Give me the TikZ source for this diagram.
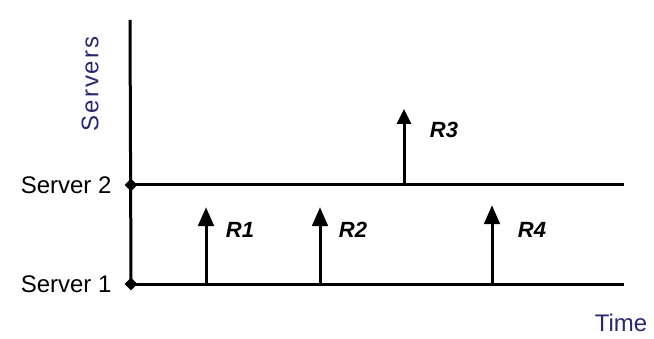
\documentclass[tikz,border=0pt]{standalone}
\usepackage{fontspec}
\setmainfont{Liberation Sans}
\newfontfamily\spacedfont[LetterSpace=8]{Liberation Sans}
\usetikzlibrary{arrows.meta,shapes.geometric}
\definecolor{axisblue}{RGB}{40,40,110}

\begin{document}
\begin{tikzpicture}[x=1pt,y=1pt,
    srv/.style={font=\fontsize{24}{28}\selectfont},
    req/.style={font=\fontsize{22}{26}\selectfont\bfseries\itshape},
    pin/.style={diamond,fill=black,inner sep=0pt,minimum size=13pt}]
    \useasboundingbox (0,0) rectangle (654,338);

    \coordinate (top) at (130,318);
    \node[pin] (s2) at (131,153) {};
    \node[pin] (s1) at (131,54) {};
    \coordinate (e2) at (624,153);
    \coordinate (e1) at (624,54);
    \node[srv,anchor=east] (l2) at (115,153) {Server 2};
    \node[srv,anchor=east] (l1) at (115,54) {Server 1};
    \node[srv,text=axisblue,rotate=90,font=\fontsize{24}{28}\spacedfont] (ys) at (90,254) {Servers};
    \node[srv,text=axisblue] (xt) at (621,15) {Time};

    \coordinate (a1) at (206,54);  \coordinate (b1) at (206,128);
    \coordinate (a2) at (320,54);  \coordinate (b2) at (320,128);
    \coordinate (a3) at (404,153); \coordinate (b3) at (404,229);
    \coordinate (a4) at (492,54);  \coordinate (b4) at (492,130);
    \node[req] (r1) at (240,108) {R1};
    \node[req] (r2) at (353,108) {R2};
    \node[req] (r3) at (444,208) {R3};
    \node[req] (r4) at (532,108) {R4};

    \path
    (top) [axisblue,line width=0.9pt] edge (s1.center)
    (s2.center) [black,line width=0.9pt] edge (e2)
    (s1.center) edge (e1)
    (a1) [-{Triangle[length=15pt,width=13pt]}] edge (b1)
    (a2) edge (b2)
    (a4) edge (b4)
    (a3) [line width=3pt,-{Triangle[length=15pt,width=14pt]}] edge (b3)
    ;
\end{tikzpicture}
\end{document}
